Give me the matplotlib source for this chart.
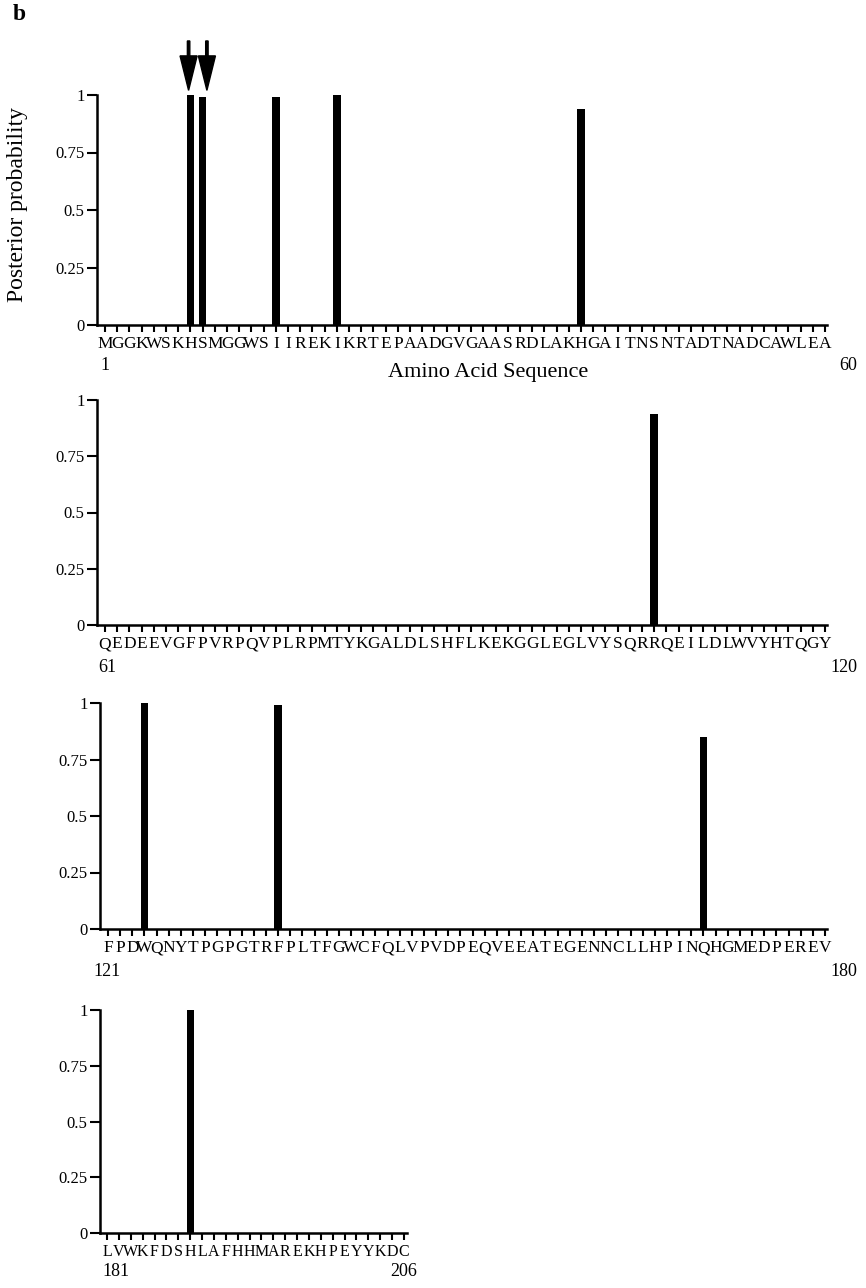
import matplotlib
matplotlib.use("Agg")
import matplotlib.pyplot as plt
import numpy as np

plt.rcParams['font.family'] = ['Liberation Serif', 'DejaVu Serif']

# ---- data ----
seq1 = "MGGKWSKHSMGGWSIIREKIKRTEPAADGVGAASRDLAKHGAITNSNTADTNADCAWLEA"
seq2 = "QEDEEVGFPVRPQVPLRPMTYKGALDLSHFLKEKGGLEGLVYSQRRQEILDLWVYHTQGY"
seq3 = "FPDWQNYTPGPGTRFPLTFGWCFQLVPVDPEQVEEATEGENNCLLHPINQHGMEDPEREV"
seq4 = "LVWKFDSHLAFHHMAREKHPEYYKDC"
starts = [1, 61, 121, 181]
ends = [60, 120, 180, 206]

# positions (within each row, 1-based) and posterior probabilities of selected sites
sites1 = [8, 9, 15, 20, 40]
probs1 = [1.0, 0.99, 0.99, 1.0, 0.94]
sites2 = [46]
probs2 = [0.94]
sites3 = [4, 15, 50]
probs3 = [1.0, 0.99, 0.85]
sites4 = [8]
probs4 = [1.0]
arrow_sites = [8, 9]

yticks = [0, 0.25, 0.5, 0.75, 1]
yticklabels = ["0", "0.25", "0.5", "0.75", "1"]

W, H = 866, 1288
fig = plt.figure(figsize=(W / 100, H / 100), dpi=100)

def px_axes(left, right, top, bottom):
    return fig.add_axes([left / W, 1 - bottom / H, (right - left) / W, (bottom - top) / H])

# (spine-left, first tick, last tick, axis-right, top, bottom) in pixels
rows = [
    (seq1, sites1, probs1, (97, 105, 825, 827, 95, 325), 12.5),
    (seq2, sites2, probs2, (97, 105, 825, 827, 400, 625), 12.5),
    (seq3, sites3, probs3, (100, 108, 825, 827, 703, 929), 12.5),
    (seq4, sites4, probs4, (100, 107, 404, 407, 1010, 1233), 11.5),
]

axes = []
for seq, sites, probs, (l, t0, t1, r, top, bot), fs in rows:
    ax = px_axes(l, r, top, bot)
    n = len(seq)
    pos = np.arange(1, n + 1)
    vals = np.zeros(n)
    for s, p in zip(sites, probs):
        vals[s - 1] = p
    ax.bar(pos, vals, width=0.6, color='black')
    unit = (t1 - t0) / (n - 1)
    ax.set_xlim(1 - (t0 - l) / unit, n + (r - t1) / unit)
    ax.set_ylim(0, 1)
    ax.set_xticks(pos)
    ax.set_xticklabels(list(seq), fontsize=fs)
    ax.set_yticks(yticks)
    ax.set_yticklabels(yticklabels, fontsize=12)
    for sp in ['top', 'right']:
        ax.spines[sp].set_visible(False)
    for sp in ['left', 'bottom']:
        ax.spines[sp].set_linewidth(1.8)
    ax.tick_params(axis='x', direction='out', length=5, width=1.5, pad=3)
    ax.tick_params(axis='y', direction='out', length=7, width=1.5, pad=2)
    axes.append(ax)

# numbering below each row
num_pos = [((100, 366), (857, 366)), ((98, 668), (857, 668)),
           ((93, 972), (857, 972)), ((102, 1272), (417, 1272))]
for (lp, rp), st, en in zip(num_pos, starts, ends):
    fig.text(lp[0] / W, 1 - lp[1] / H, str(st), ha='left', va='center', fontsize=13)
    fig.text(rp[0] / W, 1 - rp[1] / H, str(en), ha='right', va='center', fontsize=13)

fig.text(488 / W, 1 - 372 / H, "Amino Acid Sequence", ha='center', va='center', fontsize=16)
fig.text(18 / W, 1 - 205 / H, "Posterior probability", rotation=90,
         ha='center', va='center', fontsize=17)

# arrows above the first two sites
ax = axes[0]
for s, dx in zip(arrow_sites, [-0.15, 0.35]):
    ax.arrow(s + dx, 1.235, 0, -0.215, width=0.2, head_width=1.4, head_length=0.15,
             length_includes_head=True, color='black', clip_on=False)

fig.text(13 / W, 1 - 15 / H, "b", fontsize=17, fontweight='bold', ha='left', va='center')

fig.savefig("out.png", dpi=100)
